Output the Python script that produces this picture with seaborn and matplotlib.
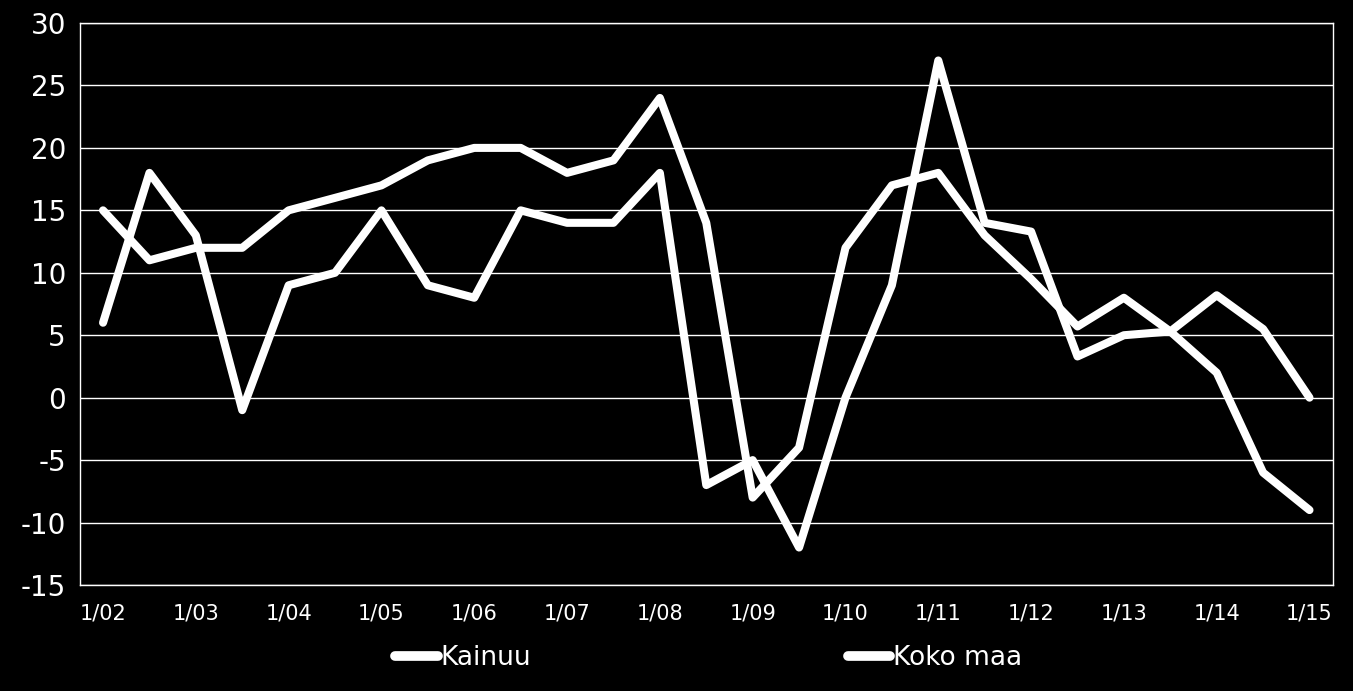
import pandas as pd
import numpy as np
import matplotlib
matplotlib.use('Agg')
import matplotlib.pyplot as plt
import seaborn as sns

# half-year points 1/02 ... 1/15
periods = ['1/02', '7/02', '1/03', '7/03', '1/04', '7/04', '1/05', '7/05', '1/06', '7/06',
           '1/07', '7/07', '1/08', '7/08', '1/09', '7/09', '1/10', '7/10', '1/11', '7/11',
           '1/12', '7/12', '1/13', '7/13', '1/14', '7/14', '1/15']
kainuu = [6, 18, 13, -1, 9, 10, 15, 9, 8, 15, 14, 14, 18, -7, -5, -12, 0, 9, 27, 14,
          13.3, 3.3, 5, 5.3, 2, -6, -9]
koko_maa = [15, 11, 12, 12, 15, 16, 17, 19, 20, 20, 18, 19, 24, 14, -8, -4, 12, 17, 18, 13,
            9.5, 5.7, 8, 5.3, 8.2, 5.5, 0]
tick_labels = ['1/02', '1/03', '1/04', '1/05', '1/06', '1/07', '1/08', '1/09', '1/10',
               '1/11', '1/12', '1/13', '1/14', '1/15']
y_ticks = [-15, -10, -5, 0, 5, 10, 15, 20, 25, 30]

df = pd.DataFrame({
    'pos': list(range(len(periods))) * 2,
    'value': kainuu + koko_maa,
    'series': ['Kainuu'] * len(periods) + ['Koko maa'] * len(periods),
})

sns.set_style('dark')
plt.rcParams['font.family'] = ['DejaVu Sans']
plt.rcParams['axes.unicode_minus'] = False

fig = plt.figure(figsize=(13.53, 6.91), dpi=100, facecolor='black')
ax = fig.add_axes([0.059, 0.1534, 0.926, 0.8133])
ax.set_facecolor('black')

sns.lineplot(data=df, x='pos', y='value', hue='series', palette=['white', 'white'],
             linewidth=5.8, ax=ax, legend=False, sort=False)
for line in ax.get_lines():
    line.set_solid_joinstyle('round')
    line.set_solid_capstyle('round')

ax.set_xlim(-0.5, len(periods) - 0.5)
ax.set_ylim(-15, 30)
ax.set_xticks(range(0, len(periods), 2))
ax.set_xticklabels(tick_labels)
ax.set_yticks(y_ticks)
ax.set_xlabel('')
ax.set_ylabel('')
ax.tick_params(axis='y', colors='white', labelsize=20, length=0, pad=10)
ax.tick_params(axis='x', colors='white', labelsize=15, length=0, pad=13)
ax.grid(axis='y', color='white', linewidth=1)
ax.grid(axis='x', visible=False)
for sp in ax.spines.values():
    sp.set_visible(True)
    sp.set_color('white')
    sp.set_linewidth(1)

handles = [plt.Line2D([], [], color='white', linewidth=7, solid_capstyle='round'),
           plt.Line2D([], [], color='white', linewidth=7, solid_capstyle='round')]
fig.legend(handles, ['Kainuu', 'Koko maa'], loc='center', bbox_to_anchor=(0.524, 0.048),
           ncol=2, frameon=False, fontsize=19, labelcolor='white', handlelength=1.6,
           handletextpad=0.12, columnspacing=12.0)

fig.savefig('out.png', dpi=100, facecolor='black')
